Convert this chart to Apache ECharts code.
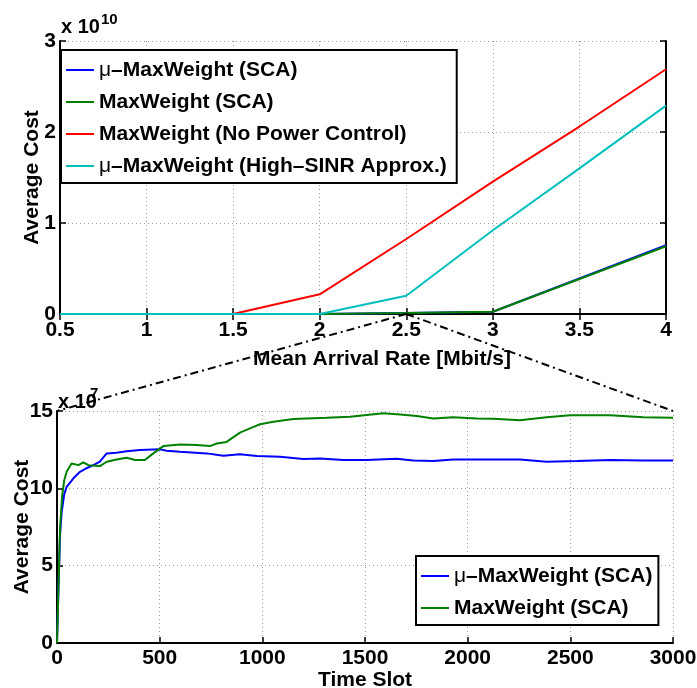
<!DOCTYPE html>
<html>
<head>
<meta charset="utf-8">
<script src="https://cdn.jsdelivr.net/npm/echarts@6/dist/echarts.min.js"></script>
<style>
html, body { margin: 0; padding: 0; background: #fff; }
#main { width: 697px; height: 688px; }
</style>
</head>
<body>
<div id="main"></div>
<script>
// top plot: average cost (x 10^10) vs mean arrival rate
const arrivalRate = [0.5, 1, 1.5, 2, 2.5, 3, 3.5, 4];
const costMuSca = [0, 0, 0, 0, 0.01, 0.025, 0.39, 0.755];
const costSca = [0, 0, 0, 0, 0.01, 0.025, 0.385, 0.745];
const costNoPc = [0, 0, 0, 0.216, 0.824, 1.454, 2.06, 2.69];
const costHighSinr = [0, 0, 0, 0, 0.2, 0.92, 1.6, 2.29];

// bottom plot: average cost (x 10^7) vs time slot, at rate 2.5
const muSlots = [0, 8, 15, 23, 35, 47, 80, 112, 144, 177, 209, 242, 290, 339, 404, 502, 534, 599, 729, 810, 891, 973, 1086, 1200, 1281, 1395, 1508, 1654, 1735, 1833, 1930, 2044, 2125, 2255, 2385, 2532, 2694, 2856, 3000];
const muCost = [0, 4, 7, 8.5, 9.6, 10.1, 10.65, 11.07, 11.3, 11.5, 11.72, 12.26, 12.3, 12.4, 12.48, 12.52, 12.43, 12.37, 12.26, 12.1, 12.2, 12.09, 12.04, 11.89, 11.93, 11.83, 11.83, 11.91, 11.8, 11.76, 11.87, 11.87, 11.87, 11.87, 11.72, 11.76, 11.83, 11.8, 11.8];
const mwSlots = [0, 8, 15, 25, 35, 47, 71, 80, 104, 128, 153, 209, 242, 290, 339, 380, 428, 469, 518, 599, 680, 745, 778, 826, 891, 940, 989, 1054, 1151, 1313, 1427, 1508, 1589, 1671, 1752, 1833, 1930, 2044, 2125, 2255, 2385, 2499, 2694, 2856, 3000];
const mwCost = [0, 4, 7.5, 9.5, 10.5, 11.07, 11.6, 11.72, 11.5, 11.68, 11.5, 11.44, 11.72, 11.87, 11.98, 11.83, 11.83, 12.26, 12.73, 12.84, 12.8, 12.73, 12.9, 13.0, 13.6, 13.88, 14.14, 14.3, 14.48, 14.56, 14.63, 14.74, 14.85, 14.78, 14.67, 14.52, 14.59, 14.52, 14.5, 14.4, 14.59, 14.72, 14.72, 14.59, 14.56];

const nameMuSca = 'μ–MaxWeight (SCA)';
const nameSca = 'MaxWeight (SCA)';
const nameNoPc = 'MaxWeight (No Power Control)';
const nameHighSinr = 'μ–MaxWeight (High–SINR Approx.)';

const FONT = "'Liberation Sans', Arial, sans-serif";
const labelStyle = { color: '#000', fontFamily: FONT, fontWeight: 'bold', fontSize: 21 };
const gridLine = { show: true, lineStyle: { color: '#9a9a9a', type: [1, 3], width: 1 } };
const blackLine = { show: true, lineStyle: { color: '#000', width: 2 } };
const inTick = { show: true, inside: true, length: 6, lineStyle: { color: '#000', width: 1.5 } };

function legendBox (names, left, top, padRight) {
  return {
    data: names,
    left: left,
    top: top,
    orient: 'vertical',
    icon: 'rect',
    itemWidth: 28,
    itemHeight: 2,
    itemGap: 10,
    padding: [9, padRight, 6, 5],
    borderColor: '#000',
    borderWidth: 2,
    backgroundColor: '#fff',
    selectedMode: false,
    textStyle: Object.assign({}, labelStyle, {
      lineHeight: 22,
      rich: { m: { fontFamily: FONT, fontWeight: 'normal', fontSize: 21, color: '#000' } }
    }),
    formatter: (name) => name.charAt(0) === 'μ' ? '{m|μ}' + name.slice(1) : name
  }
}

const myChart = echarts.init(document.getElementById('main'));

const option = {
  animation: false,
  backgroundColor: '#fff',
  grid: [
    { left: 60, top: 41, width: 606, height: 273, outerBoundsMode: 'none', containLabel: false },
    { left: 57, top: 411, width: 616, height: 232, outerBoundsMode: 'none', containLabel: false }
  ],
  xAxis: [
    {
      type: 'value', gridIndex: 0, min: 0.5, max: 4, interval: 0.5,
      axisLine: blackLine, axisTick: inTick, splitLine: gridLine,
      axisLabel: Object.assign({ margin: 6 }, labelStyle),
      name: 'Mean Arrival Rate [Mbit/s]', nameLocation: 'middle', nameGap: 35, nameMoveOverlap: false,
      nameTextStyle: Object.assign({ padding: [0, 0, 0, 38] }, labelStyle)
    },
    {
      type: 'value', gridIndex: 0, position: 'top', min: 0.5, max: 4, interval: 0.5,
      axisLine: blackLine, axisTick: inTick, splitLine: { show: false }, axisLabel: { show: false }
    },
    {
      type: 'value', gridIndex: 1, min: 0, max: 3000, interval: 500,
      axisLine: blackLine, axisTick: inTick, splitLine: gridLine,
      axisLabel: Object.assign({ margin: 5, formatter: (v) => String(v) }, labelStyle),
      name: 'Time Slot', nameLocation: 'middle', nameGap: 27, nameMoveOverlap: false, nameTextStyle: labelStyle
    }
  ],
  yAxis: [
    {
      type: 'value', gridIndex: 0, min: 0, max: 3, interval: 1,
      axisLine: blackLine, axisTick: inTick, splitLine: gridLine,
      axisLabel: Object.assign({ margin: 4 }, labelStyle),
      name: 'Average Cost', nameLocation: 'middle', nameGap: 17, nameMoveOverlap: false, nameTextStyle: labelStyle
    },
    {
      type: 'value', gridIndex: 0, position: 'right', min: 0, max: 3, interval: 1,
      axisLine: blackLine, axisTick: inTick, splitLine: { show: false }, axisLabel: { show: false }
    },
    {
      type: 'value', gridIndex: 1, min: 0, max: 15, interval: 5,
      axisLine: blackLine, axisTick: inTick, splitLine: gridLine,
      axisLabel: Object.assign({ margin: 4 }, labelStyle),
      name: 'Average Cost', nameLocation: 'middle', nameGap: 24, nameMoveOverlap: false, nameTextStyle: labelStyle
    }
  ],
  legend: [
    legendBox([nameMuSca, nameSca, nameNoPc, nameHighSinr], 61, 50, 10),
    legendBox([nameMuSca, nameSca], 416, 556, 6)
  ],
  series: [
    { name: nameMuSca, type: 'line', xAxisIndex: 0, yAxisIndex: 0, symbol: 'none', color: '#0000ff', lineStyle: { width: 2 },
      data: arrivalRate.map((r, i) => [r, costMuSca[i]]) },
    { name: nameSca, type: 'line', xAxisIndex: 0, yAxisIndex: 0, symbol: 'none', color: '#008000', lineStyle: { width: 2 },
      data: arrivalRate.map((r, i) => [r, costSca[i]]) },
    { name: nameNoPc, type: 'line', xAxisIndex: 0, yAxisIndex: 0, symbol: 'none', color: '#ff0000', lineStyle: { width: 2 },
      data: arrivalRate.map((r, i) => [r, costNoPc[i]]) },
    { name: nameHighSinr, type: 'line', xAxisIndex: 0, yAxisIndex: 0, symbol: 'none', color: '#00bfbf', lineStyle: { width: 2 },
      data: arrivalRate.map((r, i) => [r, costHighSinr[i]]) },
    { name: nameMuSca, type: 'line', xAxisIndex: 2, yAxisIndex: 2, symbol: 'none', color: '#0000ff', lineStyle: { width: 2 },
      data: muSlots.map((t, i) => [t, muCost[i]]) },
    { name: nameSca, type: 'line', xAxisIndex: 2, yAxisIndex: 2, symbol: 'none', color: '#008000', lineStyle: { width: 2 },
      data: mwSlots.map((t, i) => [t, mwCost[i]]) }
  ]
};
myChart.setOption(option);

// zoom lines from rate 2.5 down to the corners of the lower plot, and the exponent labels
const zoomPt = myChart.convertToPixel({ xAxisIndex: 0, yAxisIndex: 0 }, [2.5, 0]);
const cornerL = myChart.convertToPixel({ xAxisIndex: 2, yAxisIndex: 2 }, [0, 15]);
const cornerR = myChart.convertToPixel({ xAxisIndex: 2, yAxisIndex: 2 }, [3000, 15]);
const topCorner = myChart.convertToPixel({ xAxisIndex: 0, yAxisIndex: 0 }, [0.5, 3]);
const dashDot = { stroke: '#000', lineWidth: 2, lineDash: [8, 4, 2, 4] };
const expStyle = { fill: '#000', fontFamily: FONT, fontWeight: 'bold' };

myChart.setOption({
  graphic: [
    { type: 'line', z: 100, shape: { x1: zoomPt[0], y1: zoomPt[1], x2: cornerL[0], y2: cornerL[1] }, style: dashDot },
    { type: 'line', z: 100, shape: { x1: zoomPt[0], y1: zoomPt[1], x2: cornerR[0], y2: cornerR[1] }, style: dashDot },
    { type: 'text', z: 100, x: topCorner[0] + 1, y: topCorner[1] - 4,
      style: Object.assign({ text: 'x 10', fontSize: 20, verticalAlign: 'bottom' }, expStyle) },
    { type: 'text', z: 100, x: topCorner[0] + 41, y: topCorner[1] - 14,
      style: Object.assign({ text: '10', fontSize: 15, verticalAlign: 'bottom' }, expStyle) },
    { type: 'text', z: 100, x: cornerL[0] + 1, y: cornerL[1] + 1,
      style: Object.assign({ text: 'x 10', fontSize: 20, verticalAlign: 'bottom' }, expStyle) },
    { type: 'text', z: 100, x: cornerL[0] + 33, y: cornerL[1] - 10,
      style: Object.assign({ text: '7', fontSize: 15, verticalAlign: 'bottom' }, expStyle) }
  ]
});

window.addEventListener('resize', () => {
  myChart.resize();
});
</script>
</body>
</html>
